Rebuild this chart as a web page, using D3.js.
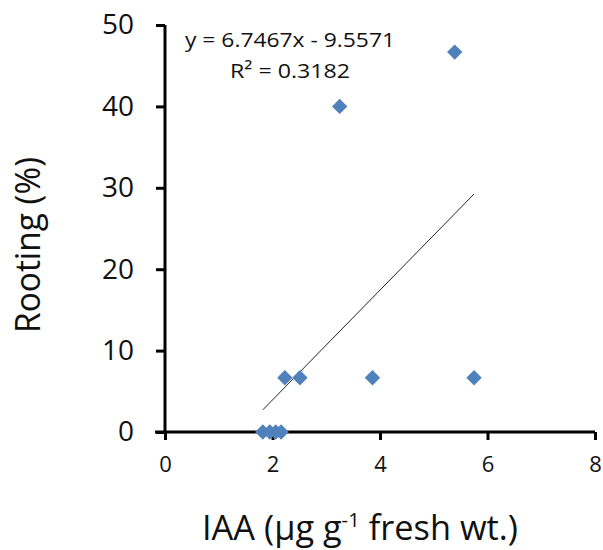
<!DOCTYPE html>
<html>
<head>
<meta charset="utf-8">
<script src="https://cdn.jsdelivr.net/npm/d3@7"></script>
<style>
  html, body { margin: 0; padding: 0; background: #fff; }
  svg { display: block; font-family: "Open Sans", sans-serif; }
</style>
</head>
<body>
<svg id="chart" width="603" height="550"></svg>
<script>
// ---- data ----
const iaa     = [1.82, 1.95, 2.06, 2.16, 2.23, 2.51, 3.86, 5.75, 3.25, 5.39];
const rooting = [0, 0, 0, 0, 6.67, 6.67, 6.67, 6.67, 40, 46.67];
const xTicks  = [0, 2, 4, 6, 8];
const yTicks  = [0, 10, 20, 30, 40, 50];
const slope = 6.7467, intercept = -9.5571, rSquared = 0.3182;
const xTitle = ["IAA (µg g", "-1", " fresh wt.)"];
const yTitle = "Rooting (%)";

const points = iaa.map((x, i) => ({ x, y: rooting[i] }));

const svg = d3.select("#chart");
const x = d3.scaleLinear().domain([0, 8]).range([165, 595]);
const y = d3.scaleLinear().domain([0, 50]).range([432, 25]);

// Y axis
const yAxis = svg.append("g")
  .attr("transform", `translate(${x(0)},0)`)
  .call(d3.axisLeft(y).tickValues(yTicks).tickSize(9).tickPadding(22).tickFormat(d3.format("d")));
yAxis.select(".domain").attr("stroke", "#000").attr("stroke-width", 3)
  .attr("d", `M0,${y(50)}V${y(0)}`);
yAxis.selectAll(".tick line").attr("stroke", "#000").attr("stroke-width", 3);
yAxis.selectAll(".tick text").attr("fill", "#111").style("font-size", "28px")
  .style("font-family", "'Open Sans', sans-serif");

// X axis
const xAxis = svg.append("g")
  .attr("transform", `translate(0,${y(0)})`)
  .call(d3.axisBottom(x).tickValues(xTicks).tickSize(8).tickPadding(16).tickFormat(d3.format("d")));
xAxis.select(".domain").attr("stroke", "#000").attr("stroke-width", 3)
  .attr("d", `M${x(0) - 10},0H${x(8)}`);
xAxis.selectAll(".tick line").attr("stroke", "#000").attr("stroke-width", 3);
xAxis.selectAll(".tick text").attr("fill", "#111").style("font-size", "22px")
  .style("font-family", "'Open Sans', sans-serif");

// Trend line over data range
const xMin = d3.min(iaa), xMax = d3.max(iaa);
svg.append("line")
  .attr("x1", x(xMin)).attr("y1", y(slope * xMin + intercept))
  .attr("x2", x(xMax)).attr("y2", y(slope * xMax + intercept))
  .attr("stroke", "#222").attr("stroke-width", 1);

// Diamond markers
const diamond = d3.symbol().type(d3.symbolSquare).size(118);
svg.append("g").selectAll("path").data(points).join("path")
  .attr("d", diamond)
  .attr("transform", d => `translate(${x(d.x)},${y(d.y)}) rotate(45)`)
  .attr("fill", "#4F81BD");

// Equation text
svg.append("text")
  .attr("x", 290).attr("y", 47).attr("text-anchor", "middle")
  .attr("textLength", 210).attr("lengthAdjust", "spacingAndGlyphs")
  .style("font-size", "20px").attr("fill", "#111")
  .text(`y = ${slope}x - ${Math.abs(intercept)}`);
svg.append("text")
  .attr("x", 290).attr("y", 78).attr("text-anchor", "middle")
  .attr("textLength", 120).attr("lengthAdjust", "spacingAndGlyphs")
  .style("font-size", "20px").attr("fill", "#111")
  .text(`R² = ${rSquared}`);

// Axis titles
const xt = svg.append("text")
  .attr("x", 360).attr("y", 540).attr("text-anchor", "middle")
  .attr("textLength", 316).attr("lengthAdjust", "spacingAndGlyphs")
  .style("font-size", "34px").attr("fill", "#111");
xt.append("tspan").text(xTitle[0]);
xt.append("tspan").attr("dy", -13).style("font-size", "20px").text(xTitle[1]);
xt.append("tspan").attr("dy", 13).text(xTitle[2]);

svg.append("text")
  .attr("transform", "translate(40,245) rotate(-90)")
  .attr("text-anchor", "middle")
  .attr("textLength", 176).attr("lengthAdjust", "spacingAndGlyphs")
  .style("font-size", "34px").attr("fill", "#111")
  .text(yTitle);
</script>
</body>
</html>
